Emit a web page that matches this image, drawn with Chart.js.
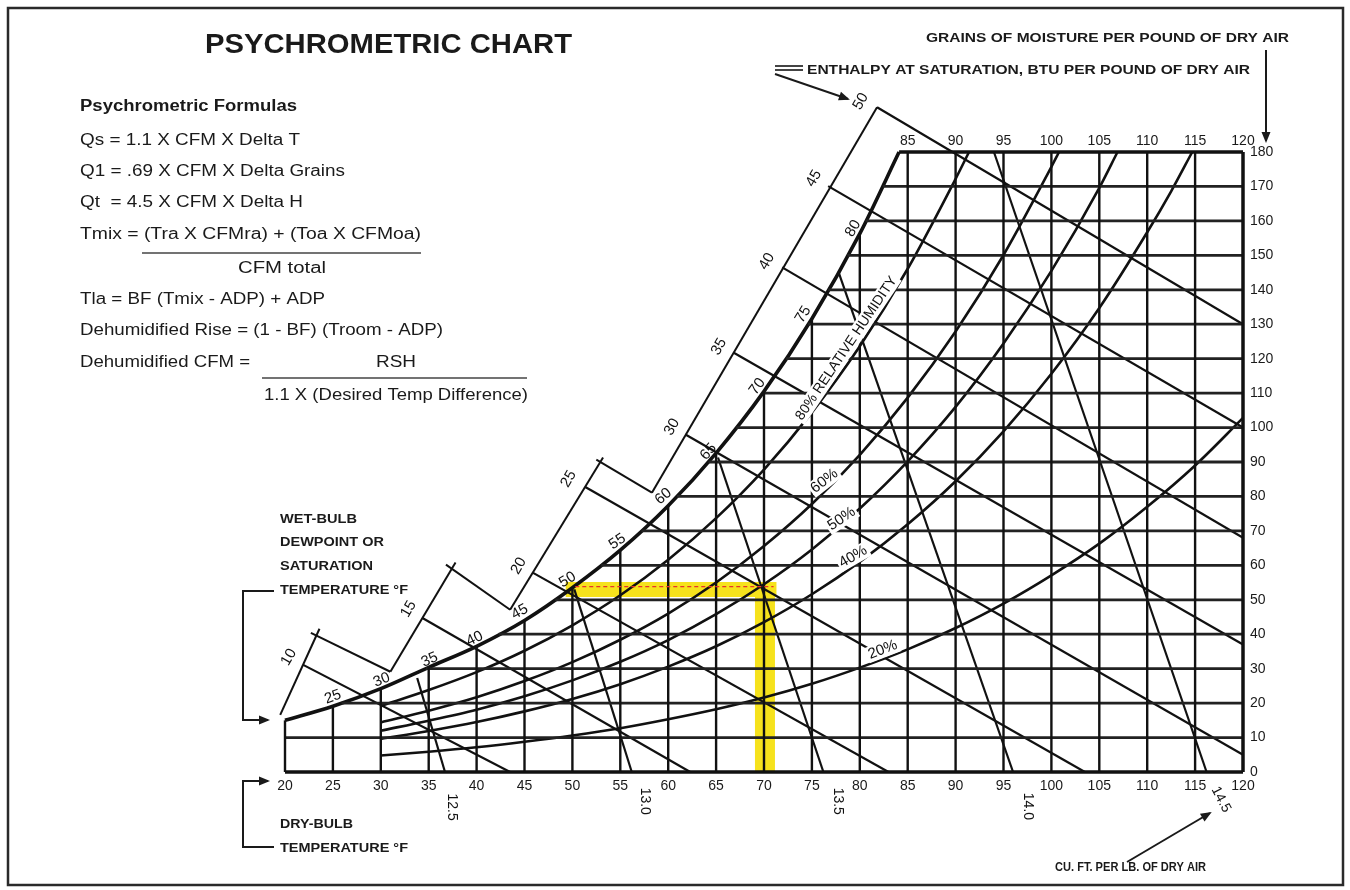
<!DOCTYPE html>
<html>
<head>
<meta charset="utf-8">
<script src="https://cdn.jsdelivr.net/npm/chart.js@4.4.1/dist/chart.umd.min.js"></script>
<style>
  body { margin: 0; background: #fff; }
  canvas { display: block; }
</style>
</head>
<body>
<canvas id="psychro" width="1350" height="890"></canvas>
<script>
// ---- values (dry-bulb F / grains per lb) ----
const dryBulbTicks = [20, 25, 30, 35, 40, 45, 50, 55, 60, 65, 70, 75, 80, 85, 90, 95, 100, 105, 110, 115, 120];
const vertTop = [15, 19.1, 24.2, 30.4, 36.5, 44, 53.5, 64.4, 77.3, 92.6, 110.5, 131.6, 156.3, 180, 180, 180, 180, 180, 180, 180, 180];
const grainTicks = [0, 10, 20, 30, 40, 50, 60, 70, 80, 90, 100, 110, 120, 130, 140, 150, 160, 170, 180];
const horizStart = [20, 20, 25.9, 34.7, 42.3, 48.2, 53, 57.2, 60.9, 64.2, 67.1, 69.9, 72.3, 74.6, 76.7, 78.7, 80.6, 82.4, 84.1];

const satTemps = [20, 25, 30, 35, 40, 45, 50, 55, 60, 65, 70, 75, 80, 84.1];
const satGrains = [15, 19.1, 24.2, 30.4, 36.5, 44, 53.5, 64.4, 77.3, 92.6, 110.5, 131.6, 156.3, 180];

const rh80Temps = [30, 35, 40, 45, 50, 55, 60, 65, 70, 75, 80, 85, 90, 91.4];
const rh80Grains = [19.2, 23.8, 29.0, 35.2, 42.6, 51.3, 61.6, 73.7, 87.8, 104.4, 123.6, 146.1, 172.2, 180];
const rh60Temps = [30, 35, 40, 45, 50, 55, 60, 65, 70, 75, 80, 85, 90, 95, 100, 100.8];
const rh60Grains = [14.4, 17.8, 21.7, 26.4, 31.9, 38.4, 46.0, 55.0, 65.6, 77.8, 92.1, 108.7, 127.9, 150.1, 175.7, 180];
const rh50Temps = [30, 35, 40, 45, 50, 55, 60, 65, 70, 75, 80, 85, 90, 95, 100, 105, 106.9];
const rh50Grains = [12.0, 14.9, 18.1, 22.0, 26.6, 32.0, 38.3, 45.8, 54.5, 64.6, 76.5, 90.2, 106.0, 124.4, 145.5, 169.6, 180];
const rh40Temps = [30, 35, 40, 45, 50, 55, 60, 65, 70, 75, 80, 85, 90, 95, 100, 105, 110, 112.5, 114.7];
const rh40Grains = [9.6, 11.9, 14.5, 17.6, 21.2, 25.5, 30.6, 36.5, 43.5, 51.6, 61.0, 71.9, 84.4, 98.9, 115.6, 134.7, 156.7, 168.6, 180];
const rh20Temps = [30, 35, 40, 45, 50, 55, 60, 65, 70, 75, 80, 85, 90, 95, 100, 105, 110, 115, 120];
const rh20Grains = [4.8, 5.9, 7.2, 8.8, 10.6, 12.7, 15.3, 18.2, 21.6, 25.6, 30.3, 35.6, 41.8, 48.9, 57.1, 66.3, 77.0, 89.0, 102.8];

// enthalpy lines: start on the outer scale, run to the bottom / right edge
const enthalpyLabels = ["10", "15", "20", "25", "30", "35", "40", "45", "50"];
const enthTickT = [21.9, 34.3, 45.9, 51.3, 61.8, 66.8, 71.9, 76.7, 81.8];
const enthTickW = [31.1, 44.8, 57.8, 82.8, 98, 121.8, 146.5, 170.1, 193];
const enthEndT = [43.5, 62.3, 83, 103.5, 120, 120, 120, 120, 120];
const enthEndW = [0, 0, 0, 0, 5, 37, 68, 100, 130];

// stepped enthalpy scale
const scaleSegT = [[19.5, 23.6], [31.0, 37.8], [43.5, 53.2], [58.3, 81.8]];
const scaleSegW = [[16.6, 41.6], [29.1, 60.8], [47.1, 91.3], [81.1, 193]];
const connT = [[22.7, 31.0], [36.8, 43.5], [52.5, 58.3]];
const connW = [[40.4, 29.1], [60.2, 47.1], [90.7, 81.1]];

// specific volume lines
const volLabels = ["12.5", "13.0", "13.5", "14.0", "14.5"];
const volTopT = [33.8, 50.2, 65.2, 77.8, 94];
const volTopW = [27.3, 53, 91.3, 145, 180];
const volBotT = [36.7, 56.2, 76.2, 96, 116.2];

// highlighted example state
const markDryBulb = 70.1;
const markGrains = 53;
const markSatT = 49.3;

const wbLabels = ["25", "30", "35", "40", "45", "50", "55", "60", "65", "70", "75", "80"];
const rhLabels = ["80% RELATIVE HUMIDITY", "60%", "50%", "40%", "20%"];

// ---- label placement (data coords) ----
const wbPos = [[25, 21.8, -20], [30.1, 26.7, -22], [35.1, 32.6, -24], [39.8, 38.7, -26], [44.5, 46.5, -29],
  [49.5, 55.8, -31], [54.7, 66.9, -34], [59.5, 80, -40], [64.2, 93, -48], [69.3, 111.9, -54], [74.1, 132.8, -58], [79.3, 157.8, -60]];
const enthPos = [[20.4, 33.3], [32.9, 47.3], [44.4, 59.8], [49.6, 85.1], [60.4, 100.2], [65.3, 123.5], [70.3, 148.2], [75.2, 172.3], [80.1, 194.7]];
const volPos = [[37.4, -10.2, 90], [57.6, -8.5, 90], [77.7, -8.5, 90], [97.5, -10, 90], [117.7, -8, 62]];
const rhPos = [[78.6, 123, -56], [76.3, 84.5, -38], [78.1, 73.5, -34], [79.3, 62.5, -30], [82.4, 35.5, -21]];

const FONT = '"Liberation Sans", Arial, Helvetica, sans-serif';
const INK = "#111";

function line(points, width, color, extra) {
  return Object.assign({
    data: points, showLine: true, borderColor: color || INK, borderWidth: width || 2.2,
    pointRadius: 0, pointHoverRadius: 0, fill: false, clip: false, order: 0
  }, extra || {});
}
function zipPts(ts, ws) { return ts.map((t, i) => ({ x: t, y: ws[i] })); }

const datasets = [];
// highlight bands under everything
datasets.push(line([{ x: markSatT, y: markGrains }, { x: markDryBulb + 1.2, y: markGrains }], 15, "#f6e21c", { order: 20 }));
datasets.push(line([{ x: markDryBulb, y: markGrains + 2 }, { x: markDryBulb, y: 0 }], 20, "#f6e21c", { order: 20 }));
datasets.push(line([{ x: markSatT + 1, y: markGrains + 0.8 }, { x: markDryBulb + 0.9, y: markGrains + 0.8 }], 1.3, "#e8322a", { order: -1, borderDash: [4, 3] }));

dryBulbTicks.forEach((t, i) => datasets.push(line([{ x: t, y: 0 }, { x: t, y: vertTop[i] }], t === 120 ? 3.5 : 2.4)));
grainTicks.forEach((w, i) => datasets.push(line([{ x: horizStart[i], y: w }, { x: 120, y: w }], (w === 0 || w === 180) ? 3.5 : 2.8, w === 0 || w === 180 ? INK : "#222")));

datasets.push(line(zipPts(satTemps, satGrains), 3.6, INK, { cubicInterpolationMode: "monotone" }));
[[rh80Temps, rh80Grains], [rh60Temps, rh60Grains], [rh50Temps, rh50Grains], [rh40Temps, rh40Grains], [rh20Temps, rh20Grains]]
  .forEach(([ts, ws]) => datasets.push(line(zipPts(ts, ws), 2.6, INK, { cubicInterpolationMode: "monotone" })));

enthalpyLabels.forEach((h, i) => datasets.push(line([{ x: enthTickT[i], y: enthTickW[i] }, { x: enthEndT[i], y: enthEndW[i] }], 2.2)));
scaleSegT.forEach((ts, i) => datasets.push(line(zipPts(ts, scaleSegW[i]), 2)));
connT.forEach((ts, i) => datasets.push(line(zipPts(ts, connW[i]), 2)));
volLabels.forEach((v, i) => datasets.push(line([{ x: volTopT[i], y: volTopW[i] }, { x: volBotT[i], y: 0 }], 2.2)));

// ---- drawing helpers ----
function rotText(ctx, text, x, y, deg, font, bg) {
  ctx.save();
  ctx.translate(x, y);
  ctx.rotate(deg * Math.PI / 180);
  ctx.font = font;
  ctx.textAlign = "center";
  ctx.textBaseline = "middle";
  if (bg) {
    const w = ctx.measureText(text).width;
    ctx.fillStyle = "#fff";
    ctx.fillRect(-w / 2 - 2, -8, w + 4, 16);
  }
  ctx.fillStyle = INK;
  ctx.fillText(text, 0, 0);
  ctx.restore();
}
function fitText(ctx, text, x, y, w, font) {
  ctx.save();
  ctx.font = font;
  const m = ctx.measureText(text).width;
  ctx.translate(x, y);
  ctx.scale(w / m, 1);
  ctx.textAlign = "left";
  ctx.textBaseline = "middle";
  ctx.fillStyle = "#1a1a1a";
  ctx.fillText(text, 0, 0);
  ctx.restore();
}
function arrow(ctx, pts, head) {
  ctx.save();
  ctx.strokeStyle = "#1a1a1a";
  ctx.fillStyle = "#1a1a1a";
  ctx.lineWidth = 2;
  ctx.beginPath();
  ctx.moveTo(pts[0][0], pts[0][1]);
  pts.slice(1).forEach(p => ctx.lineTo(p[0], p[1]));
  ctx.stroke();
  if (head) {
    const a = pts[pts.length - 2], b = pts[pts.length - 1];
    const ang = Math.atan2(b[1] - a[1], b[0] - a[0]);
    ctx.translate(b[0], b[1]);
    ctx.rotate(ang);
    ctx.beginPath();
    ctx.moveTo(2, 0);
    ctx.lineTo(-9, -4.5);
    ctx.lineTo(-9, 4.5);
    ctx.closePath();
    ctx.fill();
  }
  ctx.restore();
}
function hline(ctx, x1, x2, y, w) {
  ctx.save();
  ctx.strokeStyle = "#444";
  ctx.lineWidth = w;
  ctx.beginPath();
  ctx.moveTo(x1, y);
  ctx.lineTo(x2, y);
  ctx.stroke();
  ctx.restore();
}

const sideTexts = [
  ["PSYCHROMETRIC CHART", 205, 45, 367, "bold 28px " + FONT],
  ["Psychrometric Formulas", 80, 107, 217, "bold 16px " + FONT],
  ["Qs = 1.1 X CFM X Delta T", 80, 141, 220, "16px " + FONT],
  ["Q1 = .69 X CFM X Delta Grains", 80, 172, 265, "16px " + FONT],
  ["Qt  = 4.5 X CFM X Delta H", 80, 203, 223, "16px " + FONT],
  ["Tmix = (Tra X CFMra) + (Toa X CFMoa)", 80, 235, 341, "16px " + FONT],
  ["CFM total", 238, 269, 88, "16px " + FONT],
  ["Tla = BF (Tmix - ADP) + ADP", 80, 300, 245, "16px " + FONT],
  ["Dehumidified Rise = (1 - BF) (Troom - ADP)", 80, 331, 363, "16px " + FONT],
  ["Dehumidified CFM =", 80, 363, 170, "16px " + FONT],
  ["RSH", 376, 363, 40, "16px " + FONT],
  ["1.1 X (Desired Temp Difference)", 264, 396, 264, "16px " + FONT],
  ["GRAINS OF MOISTURE PER POUND OF DRY AIR", 926, 38, 363, "bold 13px " + FONT],
  ["ENTHALPY AT SATURATION, BTU PER POUND OF DRY AIR", 807, 70, 443, "bold 13px " + FONT],
  ["WET-BULB", 280, 520, 77, "bold 12px " + FONT],
  ["DEWPOINT OR", 280, 543, 104, "bold 12px " + FONT],
  ["SATURATION", 280, 567, 93, "bold 12px " + FONT],
  ["TEMPERATURE \u00B0F", 280, 591, 128, "bold 12px " + FONT],
  ["DRY-BULB", 280, 825, 73, "bold 12px " + FONT],
  ["TEMPERATURE \u00B0F", 280, 849, 128, "bold 12px " + FONT],
  ["CU. FT. PER LB. OF DRY AIR", 1055, 868, 151, "bold 12px " + FONT]
];

const overlay = {
  id: "overlay",
  beforeDraw(chart) {
    const ctx = chart.ctx;
    ctx.save();
    ctx.fillStyle = "#fff";
    ctx.fillRect(0, 0, chart.width, chart.height);
    ctx.strokeStyle = "#2a2a2a";
    ctx.lineWidth = 2.5;
    ctx.strokeRect(8, 8, 1335, 877);
    ctx.restore();
  },
  afterDatasetsDraw(chart) {
    const ctx = chart.ctx, xs = chart.scales.x, ys = chart.scales.y;
    const px = (t, w) => [xs.getPixelForValue(t), ys.getPixelForValue(w)];
    const f15 = "15px " + FONT;
    wbLabels.forEach((s, i) => { const p = px(wbPos[i][0], wbPos[i][1]); rotText(ctx, s, p[0], p[1], wbPos[i][2], f15); });
    enthalpyLabels.forEach((s, i) => { const p = px(enthPos[i][0], enthPos[i][1]); rotText(ctx, s, p[0], p[1], -60, f15); });
    volLabels.forEach((s, i) => { const p = px(volPos[i][0], volPos[i][1]); rotText(ctx, s, p[0], p[1], volPos[i][2], "14px " + FONT); });
    rhLabels.forEach((s, i) => { const p = px(rhPos[i][0], rhPos[i][1]); rotText(ctx, s, p[0], p[1], rhPos[i][2], (i === 0 ? "14px " : "15px ") + FONT, true); });
  },
  afterDraw(chart) {
    const ctx = chart.ctx;
    sideTexts.forEach(t => fitText(ctx, t[0], t[1], t[2], t[3], t[4]));
    hline(ctx, 142, 421, 253, 1.6);
    hline(ctx, 262, 527, 378, 1.6);
    hline(ctx, 775, 803, 66, 2);
    hline(ctx, 775, 803, 70, 2);
    arrow(ctx, [[1266, 50], [1266, 141]], true);
    arrow(ctx, [[775, 74], [848, 99]], true);
    arrow(ctx, [[1127, 862], [1210, 813]], true);
    arrow(ctx, [[274, 591], [243, 591], [243, 720], [268, 720]], true);
    arrow(ctx, [[274, 847], [243, 847], [243, 781], [268, 781]], true);
  }
};

const tickFont = { family: FONT, size: 14 };
new Chart(document.getElementById("psychro"), {
  type: "scatter",
  data: { datasets: datasets },
  options: {
    responsive: false,
    devicePixelRatio: 1,
    animation: false,
    layout: { padding: { left: 285, top: 0, right: 0, bottom: 0 } },
    plugins: { legend: { display: false }, tooltip: { enabled: false } },
    elements: { line: { tension: 0 } },
    scales: {
      x: {
        type: "linear", position: "bottom", min: 20, max: 120,
        ticks: { stepSize: 5, autoSkip: false, maxRotation: 0, color: "#1a1a1a", font: tickFont, padding: 6 },
        grid: { display: false, drawTicks: false }, border: { display: false },
        afterFit: s => { s.height = 118; }
      },
      xTop: {
        type: "linear", position: "top", min: 20, max: 120,
        ticks: { stepSize: 5, autoSkip: false, maxRotation: 0, color: "#1a1a1a", font: tickFont, padding: 2,
          callback: v => (v >= 85 ? v : "") },
        grid: { display: false, drawTicks: false }, border: { display: false },
        afterFit: s => { s.height = 152; }
      },
      y: {
        type: "linear", position: "right", min: 0, max: 180,
        ticks: { stepSize: 10, color: "#1a1a1a", font: tickFont, padding: 7 },
        grid: { display: false, drawTicks: false }, border: { display: false },
        afterFit: s => { s.width = 107; }
      }
    }
  },
  plugins: [overlay]
});
</script>
</body>
</html>
